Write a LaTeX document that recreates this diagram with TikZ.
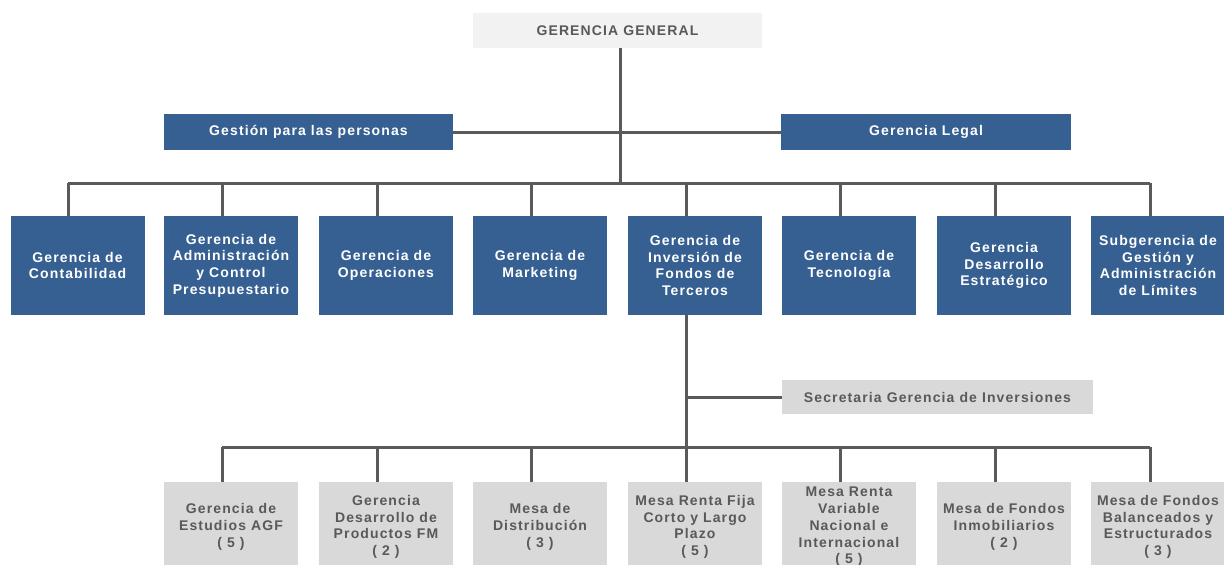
\documentclass[tikz,border=0pt]{standalone}
\usepackage{fontspec}
\setmainfont{Liberation Sans}[LetterSpace=8]
\definecolor{boxblue}{HTML}{366092}
\definecolor{boxgray}{HTML}{D9D9D9}
\definecolor{boxlight}{HTML}{F2F2F2}
\definecolor{txtgray}{HTML}{595959}
\definecolor{linegray}{HTML}{5A5A5A}
\tikzset{
  base/.style={inner sep=0pt, align=center, font=\fontsize{14}{16.7}\selectfont\bfseries},
  bluebox/.style={base, fill=boxblue, text=white},
  graybox/.style={base, fill=boxgray, text=txtgray},
  lightbox/.style={base, fill=boxlight, text=txtgray},
  rowbox/.style={minimum width=134pt, minimum height=99pt},
  botbox/.style={minimum width=134pt, minimum height=90pt},
  conn/.style={draw=linegray, line width=3pt},
}
\begin{document}
\begin{tikzpicture}[x=1pt,y=-1pt]
\useasboundingbox (0,0) rectangle (1224,565);
\clip (0,0) rectangle (1224,565);
% top
\node[lightbox, minimum width=289pt, minimum height=35pt] (gg) at (617.5,30.5) {GERENCIA GENERAL};
\node[bluebox, minimum width=289pt, minimum height=36pt] (gp) at (308.5,132) {Gestión para las personas};
\node[bluebox, minimum width=290pt, minimum height=36pt] (gl) at (926,132) {Gerencia Legal};
% row
\node[bluebox, rowbox] (r1) at (77.5,265.5) {Gerencia de\\Contabilidad};
\node[bluebox, rowbox] (r2) at (231,265.5) {Gerencia de\\Administración\\y Control\\Presupuestario};
\node[bluebox, rowbox] (r3) at (386,265.5) {Gerencia de\\Operaciones};
\node[bluebox, rowbox] (r4) at (540,265.5) {Gerencia de\\Marketing};
\node[bluebox, rowbox] (r5) at (695,265.5) {Gerencia de\\Inversión de\\Fondos de\\Terceros};
\node[bluebox, rowbox] (r6) at (849,265.5) {Gerencia de\\Tecnología};
\node[bluebox, rowbox] (r7) at (1004,265.5) {Gerencia\\Desarrollo\\Estratégico};
\node[bluebox, rowbox] (r8) at (1158,265.5) {Subgerencia de\\Gestión y\\Administración\\de Límites};
% secretaria
\node[graybox, minimum width=311pt, minimum height=34pt] (sec) at (937.5,397) {Secretaria Gerencia de Inversiones};
% bottom row
\node[graybox, botbox] (b1) at (231,527) {Gerencia de\\Estudios AGF\\( 5 )};
\node[graybox, botbox] (b2) at (386,527) {Gerencia\\Desarrollo de\\Productos FM\\( 2 )};
\node[graybox, botbox] (b3) at (540,527) {Mesa de\\Distribución\\( 3 )};
\node[graybox, botbox] (b4) at (695,527) {Mesa Renta Fija\\Corto y Largo\\Plazo\\( 5 )};
\node[graybox, botbox] (b5) at (849,527) {Mesa Renta\\Variable\\Nacional e\\Internacional\\( 5 )};
\node[graybox, botbox] (b6) at (1004,527) {Mesa de Fondos\\Inmobiliarios\\( 2 )};
\node[graybox, botbox] (b7) at (1158,527) {Mesa de Fondos\\Balanceados y\\Estructurados\\( 3 )};
% connectors
\coordinate (hub) at (620,183);
\coordinate (d1) at (68,183);
\coordinate (d2) at (222,183);
\coordinate (d3) at (377,183);
\coordinate (d4) at (531,183);
\coordinate (d5) at (686,183);
\coordinate (d6) at (840,183);
\coordinate (d7) at (995,183);
\coordinate (d8) at (1150,183);
\draw[conn] (gg.south -| hub) -- (hub);
\draw[conn] (gp.east) -- (gl.west);
\draw[conn] (d1) -- (d8);
\foreach \i in {1,...,8} { \draw[conn] (d\i) -- (d\i |- r\i.north); }
\coordinate (e1) at (222,447);
\coordinate (e2) at (377,447);
\coordinate (e3) at (531,447);
\coordinate (e4) at (686,447);
\coordinate (e5) at (840,447);
\coordinate (e6) at (995,447);
\coordinate (e7) at (1150,447);
\draw[conn] (r5.south -| e4) -- (e4);
\draw[conn] (sec.west -| e4) -- (sec.west);
\draw[conn] (e1) -- (e7);
\foreach \i in {1,...,7} { \draw[conn] (e\i) -- (e\i |- b\i.north); }
\end{tikzpicture}
\end{document}
